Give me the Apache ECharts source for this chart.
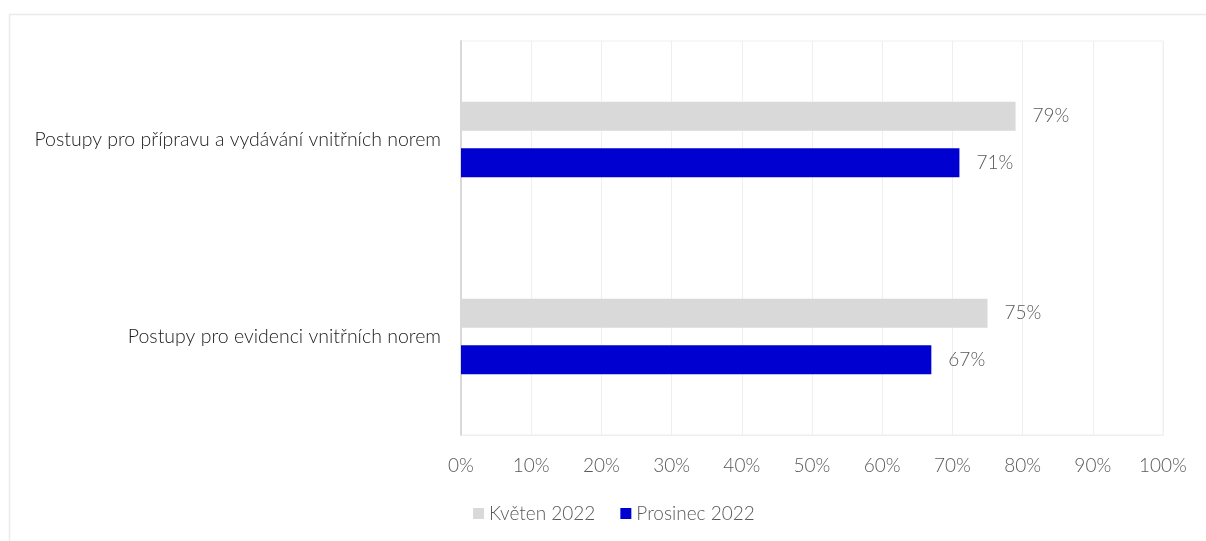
<!DOCTYPE html>
<html>
<head>
<meta charset="utf-8">
<script src="https://cdn.jsdelivr.net/npm/echarts@6/dist/echarts.min.js"></script>
<style>
  html, body { margin: 0; padding: 0; background: #ffffff; }
  #chart { width: 1206px; height: 541px; }
</style>
</head>
<body>
<div id="chart"></div>
<script>
// Categories (top to bottom) and survey shares in percent
const categories = [
  'Postupy pro přípravu a vydávání vnitřních norem',
  'Postupy pro evidenci vnitřních norem'
];
const seriesNames = ['Květen 2022', 'Prosinec 2022'];
const kveten2022 = [79, 75];
const prosinec2022 = [71, 67];
const xTicks = [0, 10, 20, 30, 40, 50, 60, 70, 80, 90, 100];

const FONT = 'Lato, "Open Sans", sans-serif';
const FS = 19;
const chart = echarts.init(document.getElementById('chart'), null, { renderer: 'canvas' });

const labelStyle = {
  show: true,
  position: 'right',
  distance: 17,
  formatter: p => p.value + '%',
  color: '#595959',
  fontSize: FS,
  fontWeight: 300,
  fontFamily: FONT
};

chart.setOption({
  backgroundColor: '#ffffff',
  animation: false,
  graphic: [{
    type: 'rect',
    left: 7, top: 12,
    shape: { width: 1220, height: 560 },
    style: { fill: 'none', stroke: '#ebebeb', lineWidth: 1.5 },
    silent: true, z: -10
  }],
  grid: {
    left: 461, right: 43, top: 41, bottom: 106,
    show: true, borderColor: '#efefef', borderWidth: 1,
    backgroundColor: 'transparent'
  },
  legend: {
    bottom: 13,
    left: 468,
    itemWidth: 11, itemHeight: 11,
    itemGap: 25,
    icon: 'rect',
    textStyle: { color: '#595959', fontSize: FS, fontWeight: 300, fontFamily: FONT },
    data: seriesNames
  },
  xAxis: {
    type: 'value',
    min: xTicks[0], max: xTicks[xTicks.length - 1], interval: 10,
    axisLine: { show: true, lineStyle: { color: '#efefef', width: 1 } },
    axisTick: { show: false },
    splitLine: { show: true, lineStyle: { color: '#efefef', width: 1 } },
    axisLabel: {
      formatter: v => v + '%',
      color: '#595959', fontSize: FS, fontWeight: 300, fontFamily: FONT, margin: 21
    }
  },
  yAxis: {
    type: 'category',
    inverse: true,
    data: categories,
    axisLine: { show: true, lineStyle: { color: '#d9d9d9', width: 2 } },
    axisTick: { show: false },
    axisLabel: { color: '#1a1a1a', fontSize: 19.5, fontWeight: 300, fontFamily: FONT, margin: 20 }
  },
  series: [
    {
      name: seriesNames[0], type: 'bar', data: kveten2022,
      barWidth: 29, barGap: '60%',
      itemStyle: { color: '#d9d9d9' },
      label: labelStyle
    },
    {
      name: seriesNames[1], type: 'bar', data: prosinec2022,
      barWidth: 29,
      itemStyle: { color: '#0000d0' },
      label: labelStyle
    }
  ]
});
</script>
</body>
</html>
